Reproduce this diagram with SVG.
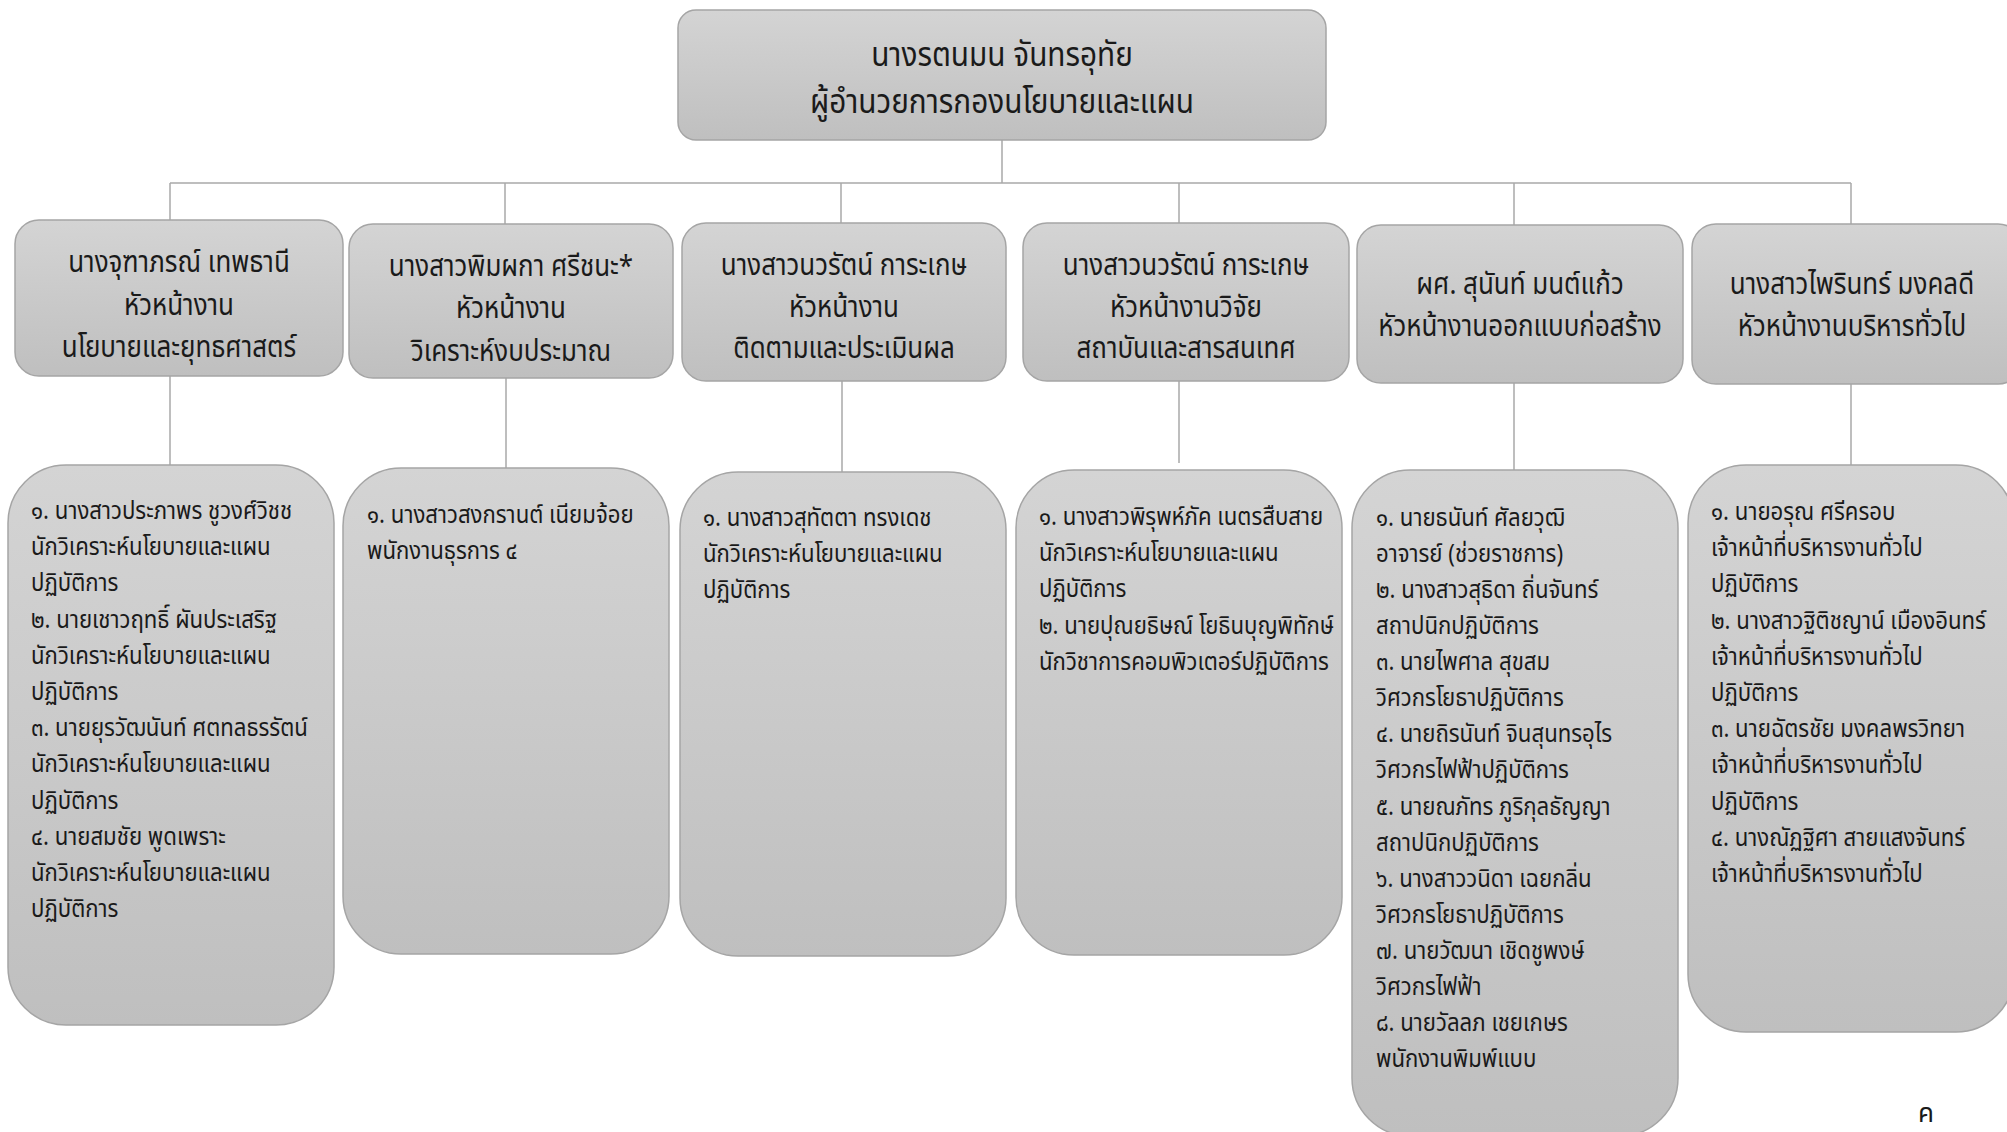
<svg xmlns="http://www.w3.org/2000/svg" width="2007" height="1132" viewBox="0 0 2007 1132">
<defs>
<linearGradient id="g" x1="0" y1="0" x2="0" y2="1">
<stop offset="0" stop-color="#d4d4d4"/>
<stop offset="1" stop-color="#bfbfbf"/>
</linearGradient>
<style>
.box{fill:url(#g);stroke:#a5a5a5;stroke-width:1.5}
.ln{stroke:#a9a9a9;stroke-width:1.5;fill:none}
text{font-family:"Noto Sans Thai","Noto Sans","DejaVu Sans",sans-serif;fill:#1a1a1a}
.t0{font-size:34px;text-anchor:middle}
.t1{font-size:29.5px;text-anchor:middle}
.t2{font-size:25.5px}
</style>
</defs>
<rect width="2007" height="1132" fill="#ffffff"/>
<g id="connectors">
<path class="ln" d="M1002 140V183M170 183H1851M170 183V220M505 183V224M841 183V223M1179 183V223M1514 183V225M1851 183V224"/>
<path class="ln" d="M170 376V465M506 378V468M842 381V472M1179 381V463M1514 383V470M1851 384V465"/>
</g>
<g id="top">
<rect class="box" x="678" y="10" width="648" height="130" rx="18"/>
<g transform="translate(1002 0) scale(0.875 1)">
<text class="t0" x="0" y="66">นางรตนมน จันทรอุทัย</text>
<text class="t0" x="0" y="113">ผู้อำนวยการกองนโยบายและแผน</text>
</g>
</g>
<g id="head1">
<rect class="box" x="15" y="220" width="328" height="156" rx="24"/>
<g transform="translate(179 0) scale(0.88 1)">
<text class="t1" x="0" y="272">นางจุฑาภรณ์ เทพธานี</text>
<text class="t1" x="0" y="315">หัวหน้างาน</text>
<text class="t1" x="0" y="357">นโยบายและยุทธศาสตร์</text>
</g>
</g>
<g id="head2">
<rect class="box" x="349" y="224" width="324" height="154" rx="24"/>
<g transform="translate(511 0) scale(0.88 1)">
<text class="t1" x="0" y="276">นางสาวพิมผกา ศรีชนะ*</text>
<text class="t1" x="0" y="318">หัวหน้างาน</text>
<text class="t1" x="0" y="361">วิเคราะห์งบประมาณ</text>
</g>
</g>
<g id="head3">
<rect class="box" x="682" y="223" width="324" height="158" rx="24"/>
<g transform="translate(844 0) scale(0.88 1)">
<text class="t1" x="0" y="275">นางสาวนวรัตน์ การะเกษ</text>
<text class="t1" x="0" y="317">หัวหน้างาน</text>
<text class="t1" x="0" y="358">ติดตามและประเมินผล</text>
</g>
</g>
<g id="head4">
<rect class="box" x="1023" y="223" width="326" height="158" rx="24"/>
<g transform="translate(1186 0) scale(0.88 1)">
<text class="t1" x="0" y="275">นางสาวนวรัตน์ การะเกษ</text>
<text class="t1" x="0" y="317">หัวหน้างานวิจัย</text>
<text class="t1" x="0" y="358">สถาบันและสารสนเทศ</text>
</g>
</g>
<g id="head5">
<rect class="box" x="1357" y="225" width="326" height="158" rx="24"/>
<g transform="translate(1520 0) scale(0.88 1)">
<text class="t1" x="0" y="294">ผศ. สุนันท์ มนต์แก้ว</text>
<text class="t1" x="0" y="336">หัวหน้างานออกแบบก่อสร้าง</text>
</g>
</g>
<g id="head6">
<rect class="box" x="1692" y="224" width="330" height="160" rx="24"/>
<g transform="translate(1852 0) scale(0.88 1)">
<text class="t1" x="0" y="294">นางสาวไพรินทร์ มงคลดี</text>
<text class="t1" x="0" y="336">หัวหน้างานบริหารทั่วไป</text>
</g>
</g>
<g id="staff1">
<rect class="box" x="8" y="465" width="326" height="560" rx="58"/>
<text class="t2" transform="translate(31 519) scale(0.87 1)">
<tspan x="0" y="0">๑. นางสาวประภาพร ชูวงศ์วิชช</tspan>
<tspan x="0" dy="36.2">นักวิเคราะห์นโยบายและแผน</tspan>
<tspan x="0" dy="36.2">ปฏิบัติการ</tspan>
<tspan x="0" dy="36.2">๒. นายเชาวฤทธิ์ ผันประเสริฐ</tspan>
<tspan x="0" dy="36.2">นักวิเคราะห์นโยบายและแผน</tspan>
<tspan x="0" dy="36.2">ปฏิบัติการ</tspan>
<tspan x="0" dy="36.2">๓. นายยุรวัฒนันท์ ศตทลธรรัตน์</tspan>
<tspan x="0" dy="36.2">นักวิเคราะห์นโยบายและแผน</tspan>
<tspan x="0" dy="36.2">ปฏิบัติการ</tspan>
<tspan x="0" dy="36.2">๔. นายสมชัย พูดเพราะ</tspan>
<tspan x="0" dy="36.2">นักวิเคราะห์นโยบายและแผน</tspan>
<tspan x="0" dy="36.2">ปฏิบัติการ</tspan>
</text>
</g>
<g id="staff2">
<rect class="box" x="343" y="468" width="326" height="486" rx="58"/>
<text class="t2" transform="translate(367 523) scale(0.87 1)">
<tspan x="0" y="0">๑. นางสาวสงกรานต์ เนียมจ้อย</tspan>
<tspan x="0" dy="36.2">พนักงานธุรการ ๔</tspan>
</text>
</g>
<g id="staff3">
<rect class="box" x="680" y="472" width="326" height="484" rx="58"/>
<text class="t2" transform="translate(703 526) scale(0.87 1)">
<tspan x="0" y="0">๑. นางสาวสุทัตตา ทรงเดช</tspan>
<tspan x="0" dy="36.2">นักวิเคราะห์นโยบายและแผน</tspan>
<tspan x="0" dy="36.2">ปฏิบัติการ</tspan>
</text>
</g>
<g id="staff4">
<rect class="box" x="1016" y="470" width="326" height="485" rx="58"/>
<text class="t2" transform="translate(1039 525) scale(0.87 1)">
<tspan x="0" y="0">๑. นางสาวพิรุพห์ภัค เนตรสืบสาย</tspan>
<tspan x="0" dy="36.2">นักวิเคราะห์นโยบายและแผน</tspan>
<tspan x="0" dy="36.2">ปฏิบัติการ</tspan>
<tspan x="0" dy="36.2">๒. นายปุณยธิษณ์ โยธินบุญพิทักษ์</tspan>
<tspan x="0" dy="36.2">นักวิชาการคอมพิวเตอร์ปฏิบัติการ</tspan>
</text>
</g>
<g id="staff5">
<rect class="box" x="1352" y="470" width="326" height="666" rx="58"/>
<text class="t2" transform="translate(1376 526) scale(0.87 1)">
<tspan x="0" y="0">๑. นายธนันท์ ศัลยวุฒิ</tspan>
<tspan x="0" dy="36.07">อาจารย์ (ช่วยราชการ)</tspan>
<tspan x="0" dy="36.07">๒. นางสาวสุธิดา ถิ่นจันทร์</tspan>
<tspan x="0" dy="36.07">สถาปนิกปฏิบัติการ</tspan>
<tspan x="0" dy="36.07">๓. นายไพศาล สุขสม</tspan>
<tspan x="0" dy="36.07">วิศวกรโยธาปฏิบัติการ</tspan>
<tspan x="0" dy="36.07">๔. นายถิรนันท์ จินสุนทรอุไร</tspan>
<tspan x="0" dy="36.07">วิศวกรไฟฟ้าปฏิบัติการ</tspan>
<tspan x="0" dy="36.07">๕. นายณภัทร ภูริกุลธัญญา</tspan>
<tspan x="0" dy="36.07">สถาปนิกปฏิบัติการ</tspan>
<tspan x="0" dy="36.07">๖. นางสาววนิดา เฉยกลิ่น</tspan>
<tspan x="0" dy="36.07">วิศวกรโยธาปฏิบัติการ</tspan>
<tspan x="0" dy="36.07">๗. นายวัฒนา เชิดชูพงษ์</tspan>
<tspan x="0" dy="36.07">วิศวกรไฟฟ้า</tspan>
<tspan x="0" dy="36.07">๘. นายวัลลภ เชยเกษร</tspan>
<tspan x="0" dy="36.07">พนักงานพิมพ์แบบ</tspan>
</text>
</g>
<g id="staff6">
<rect class="box" x="1688" y="465" width="326" height="567" rx="58"/>
<text class="t2" transform="translate(1711 520) scale(0.87 1)">
<tspan x="0" y="0">๑. นายอรุณ ศรีครอบ</tspan>
<tspan x="0" dy="36.2">เจ้าหน้าที่บริหารงานทั่วไป</tspan>
<tspan x="0" dy="36.2">ปฏิบัติการ</tspan>
<tspan x="0" dy="36.2">๒. นางสาวฐิติชญาน์ เมืองอินทร์</tspan>
<tspan x="0" dy="36.2">เจ้าหน้าที่บริหารงานทั่วไป</tspan>
<tspan x="0" dy="36.2">ปฏิบัติการ</tspan>
<tspan x="0" dy="36.2">๓. นายฉัตรชัย มงคลพรวิทยา</tspan>
<tspan x="0" dy="36.2">เจ้าหน้าที่บริหารงานทั่วไป</tspan>
<tspan x="0" dy="36.2">ปฏิบัติการ</tspan>
<tspan x="0" dy="36.2">๔. นางณัฏฐิศา สายแสงจันทร์</tspan>
<tspan x="0" dy="36.2">เจ้าหน้าที่บริหารงานทั่วไป</tspan>
</text>
</g>
<text x="1926" y="1122" style="font-size:26px;text-anchor:middle">ค</text>
</svg>
